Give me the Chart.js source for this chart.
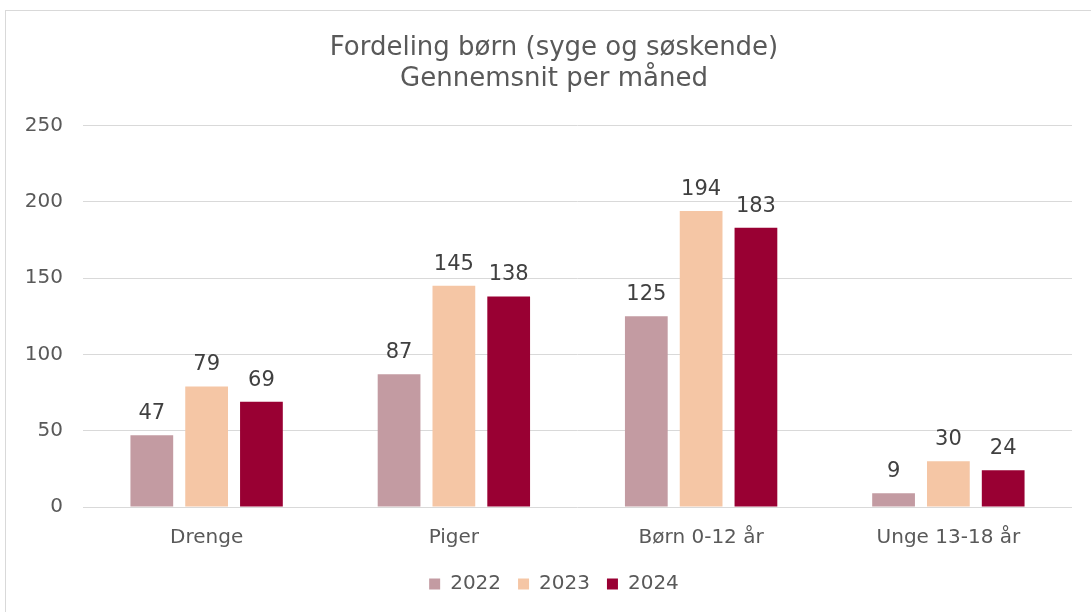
<!DOCTYPE html>
<html>
<head>
<meta charset="utf-8">
<script src="https://cdn.jsdelivr.net/npm/chart.js@4/dist/chart.umd.min.js"></script>
<style>
  html, body { margin: 0; padding: 0; background: #fff; overflow: hidden; }
  #box { position: absolute; left: 5px; top: 10px; width: 1098px; height: 640px; border: 1px solid #d9d9d9; }
</style>
</head>
<body>
<div id="box"><canvas id="chart" width="1098" height="610"></canvas></div>
<script>
const categories = ['Drenge', 'Piger', 'Børn 0-12 år', 'Unge 13-18 år']
const years = ['2022', '2023', '2024']
const values2022 = [47, 87, 125, 9]
const values2023 = [79, 145, 194, 30]
const values2024 = [69, 138, 183, 24]
const colors = ['#c39ba2', '#f5c6a5', '#990033']
const yTicks = [0, 50, 100, 150, 200, 250]

Chart.defaults.font.family = "'DejaVu Sans', Verdana, sans-serif"
Chart.defaults.color = '#595959'

// values above each bar
const barLabels = {
  id: 'barLabels',
  afterDatasetsDraw(chart) {
    const ctx = chart.ctx
    ctx.save()
    ctx.font = "21px 'DejaVu Sans', Verdana, sans-serif"
    ctx.fillStyle = '#404040'
    ctx.textAlign = 'center'
    ctx.textBaseline = 'alphabetic'
    chart.data.datasets.forEach((ds, i) => {
      chart.getDatasetMeta(i).data.forEach((bar, j) => {
        ctx.fillText(ds.data[j], bar.x, bar.y - 16)
      })
    })
    ctx.restore()
  }
}

new Chart(document.getElementById('chart'), {
  type: 'bar',
  data: {
    labels: categories,
    datasets: [values2022, values2023, values2024].map((d, i) => ({
      label: years[i],
      data: d,
      backgroundColor: colors[i],
      categoryPercentage: 0.665,
      barPercentage: 0.78
    }))
  },
  options: {
    responsive: false,
    animation: false,
    layout: { padding: { left: 0, right: 2, top: 0, bottom: 17 } },
    plugins: {
      title: {
        display: true,
        text: ['Fordeling børn (syge og søskende)', 'Gennemsnit per måned'],
        color: '#595959',
        font: { size: 26, weight: 'normal', lineHeight: 1.22 },
        padding: { top: 21, bottom: 30 }
      },
      legend: {
        position: 'bottom',
        labels: { boxWidth: 11, boxHeight: 11, padding: 17, color: '#595959', font: { size: 20 } }
      },
      tooltip: { enabled: false }
    },
    scales: {
      x: {
        grid: { display: false },
        border: { display: false },
        ticks: { padding: 11, color: '#595959', font: { size: 20 } },
        afterFit(s) { s.height -= 4 }
      },
      y: {
        min: 0,
        max: 250,
        afterBuildTicks(s) { s.ticks = yTicks.map(v => ({ value: v })) },
        grid: { color: '#d9d9d9', lineWidth: 1, drawTicks: false },
        border: { display: false },
        ticks: { padding: 20, color: '#595959', font: { size: 20 } },
        afterFit(s) { s.width = 77 }
      },
      // empty right margin so title and legend stay centred on the frame
      yRight: {
        position: 'right',
        grid: { display: false },
        border: { display: false },
        ticks: { display: false },
        afterFit(s) { s.width = 30 }
      }
    }
  },
  plugins: [barLabels]
})
</script>
</body>
</html>
